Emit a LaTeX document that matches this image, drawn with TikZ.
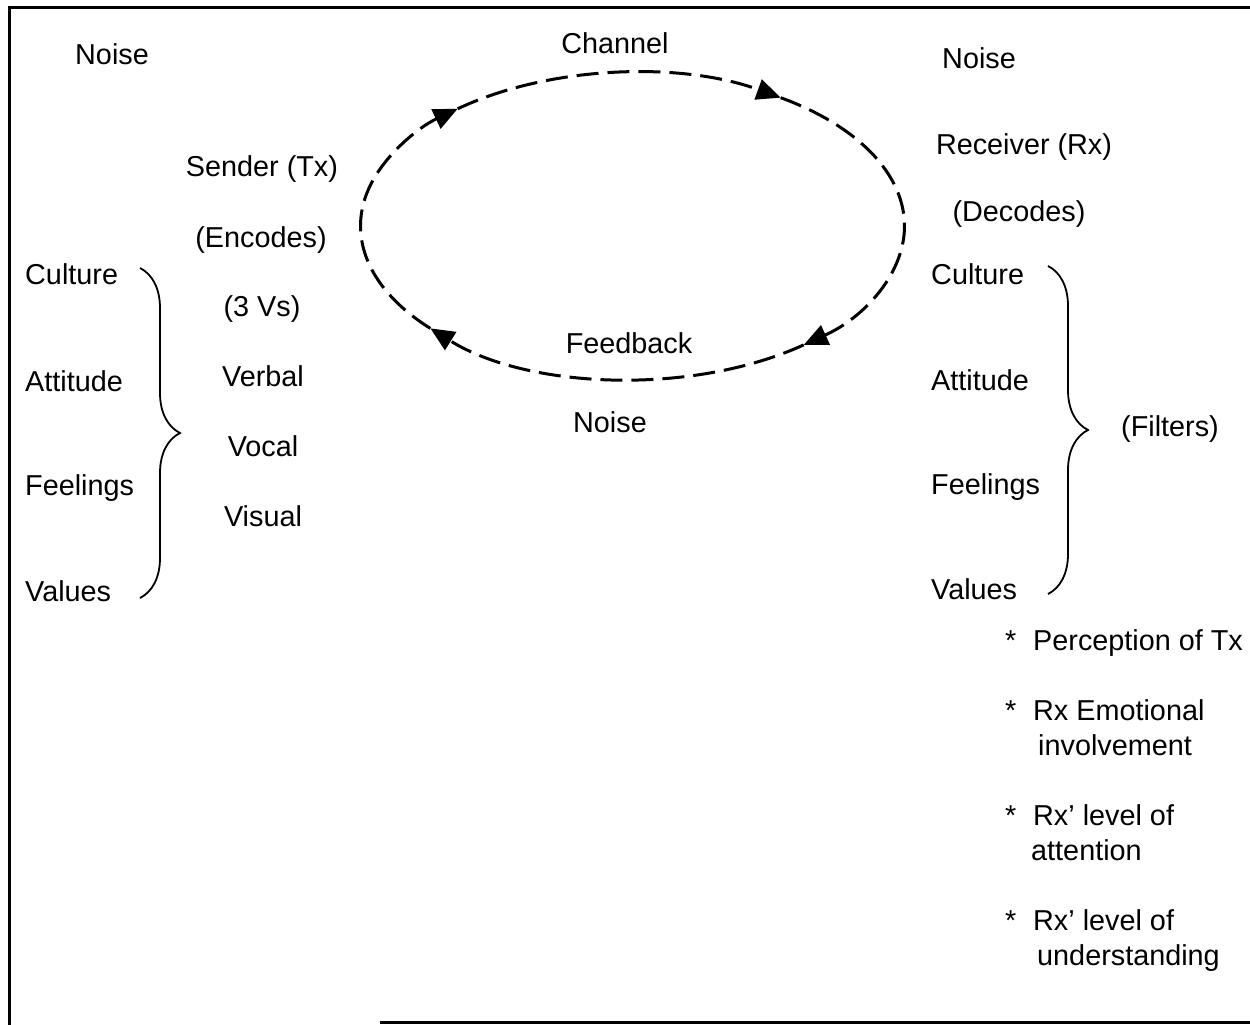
\documentclass[tikz,border=0pt]{standalone}
\usepackage{fontspec}
\setmainfont{Liberation Sans}
\usetikzlibrary{arrows.meta,decorations.pathreplacing,calc}
\begin{document}
\begin{tikzpicture}[x=1pt,y=-1pt,
  lbl/.style={inner sep=0pt, font=\fontsize{28.8}{34.5}\selectfont},
  lw/.style={lbl, anchor=base west},
  lc/.style={lbl, anchor=base},
  cyc/.style={line width=3pt, dash pattern=on 22pt off 9pt, -{Triangle[length=24pt,width=21pt]}},
  brc/.style={line width=1.8pt, decorate, decoration={brace, amplitude=40pt, aspect=0.5}},
  frame/.style={line width=3pt}]
\useasboundingbox (0,0) rectangle (1250,1025);
% frame
\draw[frame] (9,1025) -- (9,8) -- (1250,8);
\draw[frame] (380,1022) -- (1250,1022);

% cycle
\coordinate (c) at (632.5,226);
\draw[cyc] ($(c)+(-130:272 and 153)$) arc[start angle=-130, end angle=-57, x radius=272, y radius=153];
\draw[cyc] ($(c)+(-57:272 and 153)$) arc[start angle=-57, end angle=51, x radius=272, y radius=153];
\draw[cyc] ($(c)+(51:272 and 153)$) arc[start angle=51, end angle=138, x radius=272, y radius=153];
\draw[cyc] ($(c)+(138:272 and 153)$) arc[start angle=138, end angle=230, x radius=272, y radius=153];

% top labels
\node[lw] (noiseL) at (75,64) {Noise};
\node[lc] (channel) at (615,53) {Channel};
\node[lw] (noiseR) at (942,69) {Noise};
\node[lc] (feedback) at (629,353) {Feedback};
\node[lc] (noiseB) at (610,432) {Noise};

% sender side
\node[lc] (sender) at (262,176) {Sender (Tx)};
\node[lc] (encodes) at (261,247) {(Encodes)};
\node[lc] (threev) at (262,316) {(3 Vs)};
\node[lc] (verbal) at (263,386) {Verbal};
\node[lc] (vocal) at (263,456) {Vocal};
\node[lc] (visual) at (263,526) {Visual};

\node[lw] (cultL) at (25,284) {Culture};
\node[lw] (attL) at (25,391) {Attitude};
\node[lw] (feelL) at (25,495) {Feelings};
\node[lw] (valL) at (25,601) {Values};
\draw[brc] (140,268) -- (140,598);

% receiver side
\node[lc] (receiver) at (1024,154) {Receiver (Rx)};
\node[lc] (decodes) at (1019,221) {(Decodes)};
\node[lw] (cultR) at (931,284) {Culture};
\node[lw] (attR) at (931,390) {Attitude};
\node[lw] (feelR) at (931,494) {Feelings};
\node[lw] (valR) at (931,599) {Values};
\draw[brc] (1048,266) -- (1048,594);
\node[lc] (filters) at (1170,436) {(Filters)};

% notes
\node[lw] (n1) at (1005,650) {\makebox[28pt][l]{*}Perception of Tx};
\node[lw, align=left] (n2) at (1005,755) {\makebox[28pt][l]{*}Rx Emotional\\\hspace*{33pt}involvement};
\node[lw, align=left] (n3) at (1005,860) {\makebox[28pt][l]{*}Rx’ level of\\\hspace*{26pt}attention};
\node[lw, align=left] (n4) at (1005,965) {\makebox[28pt][l]{*}Rx’ level of\\\hspace*{32pt}understanding};
\end{tikzpicture}
\end{document}
